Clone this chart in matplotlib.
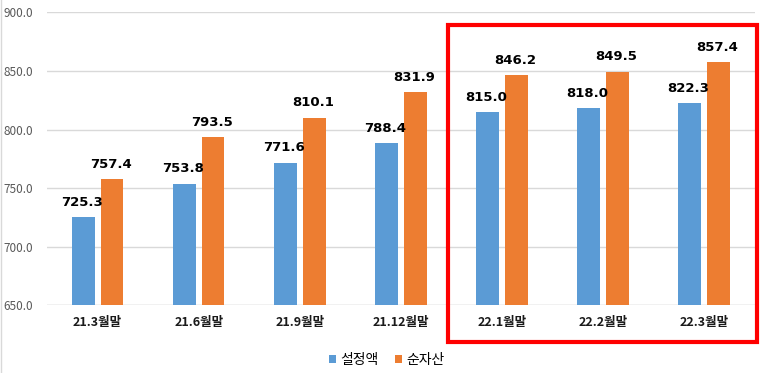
import numpy as np
import matplotlib
matplotlib.use('Agg')
import matplotlib.pyplot as plt
from matplotlib.patches import Rectangle

plt.rcParams['font.family'] = ['Noto Sans CJK KR', 'DejaVu Sans']

# data
categories = ['21.3월말', '21.6월말', '21.9월말', '21.12월말', '22.1월말', '22.2월말', '22.3월말']
series_names = ['설정액', '순자산']
setting = [725.3, 753.8, 771.6, 788.4, 815.0, 818.0, 822.3]
net_assets = [757.4, 793.5, 810.1, 831.9, 846.2, 849.5, 857.4]
yticks = [650, 700, 750, 800, 850, 900]

blue = '#5B9BD5'
orange = '#ED7D31'

fig = plt.figure(figsize=(7.64, 3.73), dpi=100)
ax = fig.add_axes([0.0615, 0.182, 0.9265, 0.7845])

x = np.arange(len(categories))
w = 0.225
off = 0.1425
b1 = ax.bar(x - off, setting, w, color=blue, label=series_names[0], zorder=3)
b2 = ax.bar(x + off, net_assets, w, color=orange, label=series_names[1], zorder=3)

for bars, vals in ((b1, setting), (b2, net_assets)):
    for b, v in zip(bars, vals):
        ax.annotate('%.1f' % v, (b.get_x() + b.get_width() / 2, v),
                    xytext=(-1, 6), textcoords='offset points',
                    ha='center', va='bottom', fontsize=9.5,
                    fontweight='bold', color='black', family='DejaVu Sans')

ax.set_ylim(650, 900)
ax.set_xlim(-0.5, len(categories) - 0.5)
ax.set_yticks(yticks)
ax.set_yticklabels(['%.1f' % t for t in yticks], fontsize=8.5, color='#595959')
ax.set_xticks(x)
ax.set_xticklabels(categories, fontsize=9, fontweight='bold', color='#1a1a1a')
ax.tick_params(length=0, pad=8)
ax.tick_params(axis='y', pad=10)
ax.grid(axis='y', color='#d9d9d9', linewidth=1, zorder=0)
for s in ax.spines.values():
    s.set_visible(False)
ax.axhline(650, color='#d9d9d9', linewidth=1, zorder=1)

leg = fig.legend(handles=[b1, b2], labels=series_names, loc='center',
                 bbox_to_anchor=(0.506, 0.035), ncol=2, frameon=False,
                 fontsize=10, handlelength=0.5, handleheight=0.5,
                 handletextpad=0.3, columnspacing=1.2)

# red highlight box (figure pixels)
fig.patches.append(Rectangle((448 / 764, 1 - 342 / 373), (757 - 448) / 764,
                             (342 - 25) / 373, transform=fig.transFigure,
                             fill=False, edgecolor='#ff0000', linewidth=3))

# light left border
fig.add_artist(plt.Line2D([0.001, 0.001], [0, 1], transform=fig.transFigure,
                          color='#d9d9d9', linewidth=1))

fig.savefig('out.png', dpi=100)
